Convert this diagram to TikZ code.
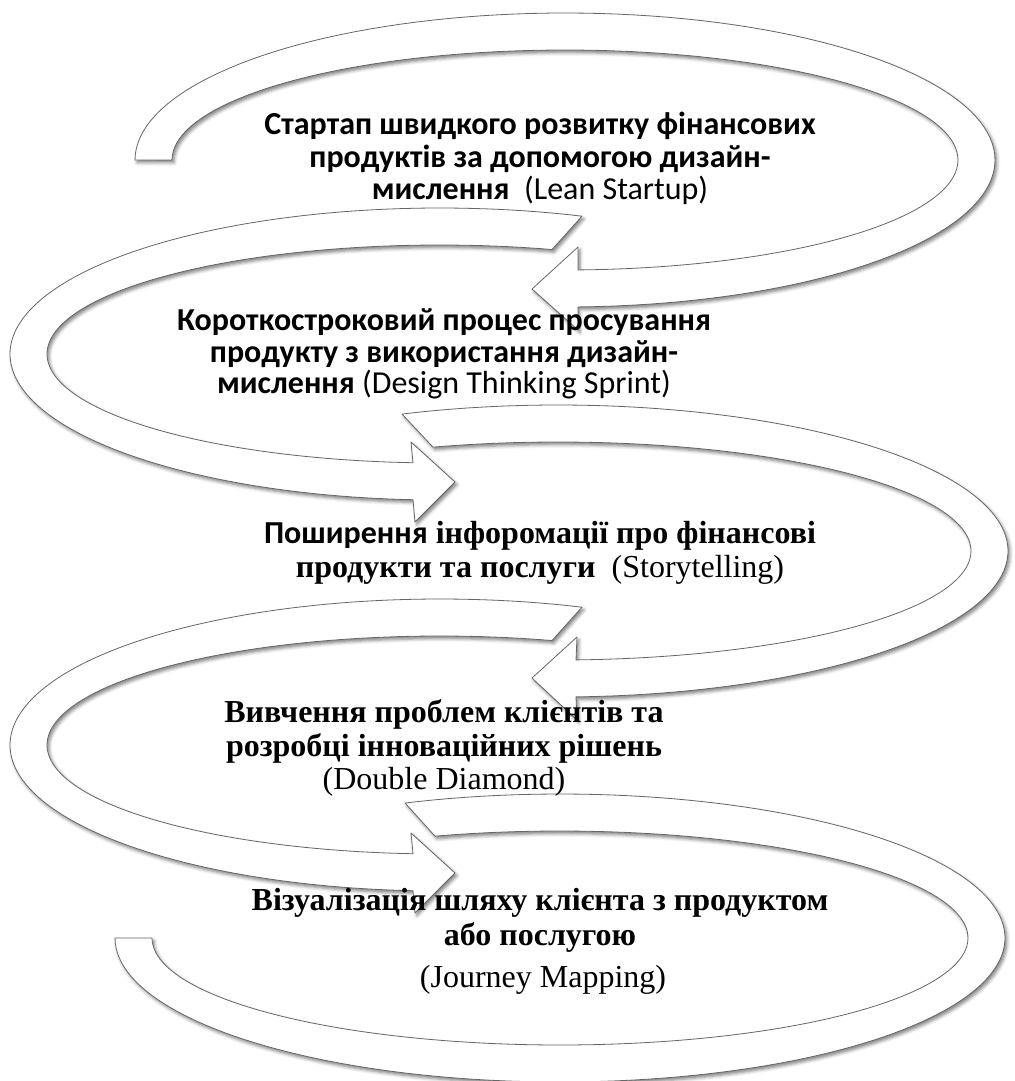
\documentclass[tikz,border=0pt]{standalone}
\usepackage{fontspec}
\setmainfont{Liberation Serif}
\newfontfamily\calfont{Carlito}
\usetikzlibrary{shadows.blur}
\begin{document}
\begin{tikzpicture}[x=0.75pt,y=-0.75pt,
  band/.style={draw=black!60, line width=0.6pt, fill=white, line join=round,
     blur shadow={shadow xshift=1.5pt, shadow yshift=-2pt, shadow blur radius=2.5pt, shadow opacity=50}},
  cal/.style={font=\calfont\bfseries\fontsize{24}{26}\selectfont, inner sep=0pt, anchor=base},
  tnr/.style={font=\bfseries\fontsize{24}{26}\selectfont, inner sep=0pt, anchor=base}]
\path[use as bounding box] (0,0) rectangle (1014,1081);

% arrow 1
\draw[band] plot[domain=180:448.27,samples=120] ({565+430*cos(\x)},{160+147*sin(\x)})
  -- (578,330) -- (532,289) -- (578,247)
  -- plot[domain=448.10:180,samples=120] ({565+393*cos(\x)},{160+110*sin(\x)}) -- cycle;
% arrow 2
\draw[band] plot[domain=289.28:93.6,samples=120] ({440+430*cos(\x)},{354+146*sin(\x)})
  -- (415,522) -- (455,482) -- (411,442)
  -- plot[domain=93.94:286.56,samples=120] ({440+393*cos(\x)},{354+109*sin(\x)}) -- cycle;
% arrow 3
\draw[band] plot[domain=249.72:447.71,samples=120] ({558+450*cos(\x)},{551+146*sin(\x)})
  -- (577,720) -- (532,678) -- (577,637)
  -- plot[domain=447.50:252.38,samples=120] ({558+413*cos(\x)},{551+109*sin(\x)}) -- cycle;
% arrow 4
\draw[band] plot[domain=289.28:93.6,samples=120] ({440+430*cos(\x)},{745+146*sin(\x)})
  -- (415,913) -- (455,873) -- (411,833)
  -- plot[domain=93.94:286.56,samples=120] ({440+393*cos(\x)},{745+109*sin(\x)}) -- cycle;
% arrow 5
\draw[band] plot[domain=249.62:540,samples=150] ({560+445*cos(\x)},{938+144*sin(\x)})
  -- plot[domain=540:252.16,samples=150] ({560+408*cos(\x)},{938+107*sin(\x)}) -- cycle;

\node[cal] (t1a) at (540,134) {Стартап швидкого розвитку фінансових};
\node[cal] (t1b) at (540,167) {продуктів за допомогою дизайн-};
\node[cal] (t1c) at (540,199) {мислення\ \ {\mdseries(Lean Startup)}};
\node[cal] (t2a) at (444,330) {Короткостроковий процес просування};
\node[cal] (t2b) at (444,362) {продукту з використання дизайн-};
\node[cal] (t2c) at (444,393) {мислення {\mdseries(Design Thinking Sprint)}};
\node[tnr] (t3a) at (540,543) {{\calfont Поширення} інфоромації про фінансові};
\node[tnr] (t3b) at (540,577) {продукти та послуги\ \ {\mdseries(Storytelling)}};
\node[tnr] (t4a) at (444,722) {Вивчення проблем клієнтів та};
\node[tnr] (t4b) at (444,756) {розробці інноваційних рішень};
\node[tnr] (t4c) at (444,789) {\mdseries(Double Diamond)};
\node[tnr] (t5a) at (540,910) {Візуалізація шляху клієнта з продуктом};
\node[tnr] (t5b) at (540,945) {або послугою};
\node[tnr] (t5c) at (543,987) {\mdseries(Journey Mapping)};
\end{tikzpicture}
\end{document}
